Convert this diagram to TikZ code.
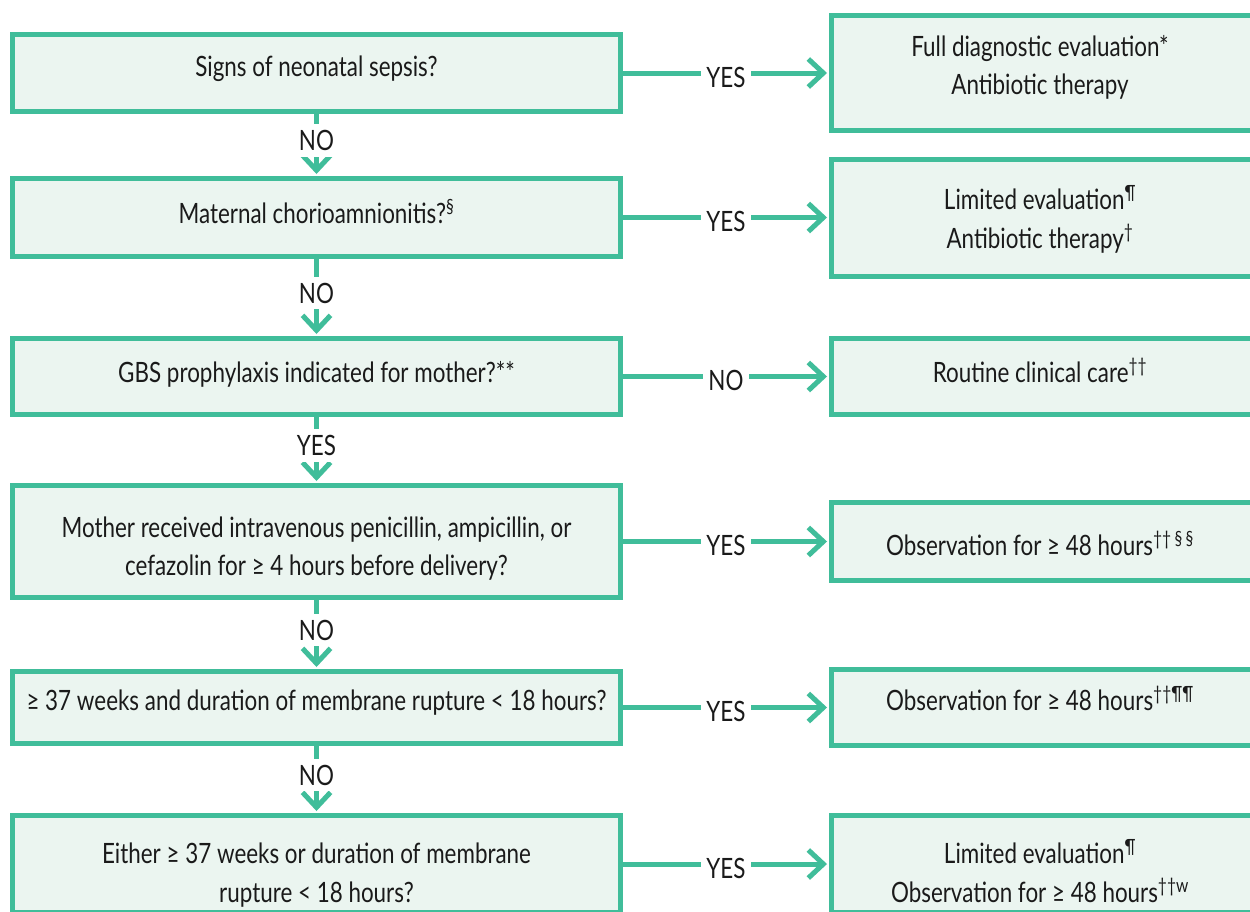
\documentclass[tikz,border=0pt]{standalone}
\usepackage{fontspec}
\setmainfont{Lato}[FakeStretch=0.8]
\usetikzlibrary{arrows.meta}
\definecolor{gr}{RGB}{64,189,154}
\definecolor{mint}{RGB}{235,245,240}
\definecolor{ink}{RGB}{26,26,26}
\begin{document}
\begin{tikzpicture}[x=1pt,y=-1pt,
  box/.style={draw=gr, line width=5pt, fill=mint, rectangle, inner sep=0pt},
  lbox/.style={box, minimum width=608pt},
  rbox/.style={box, minimum width=421pt},
  txt/.style={anchor=base, font=\fontsize{28}{38}\selectfont, text=ink, inner sep=0pt},
  lab/.style={font=\fontsize{28}{32}\selectfont, text=ink, fill=white, inner xsep=5pt, inner ysep=6pt},
  conn/.style={draw=gr, line width=5pt, shorten >=2pt, -{Straight Barb[length=15pt,width=28pt]}}
]
\useasboundingbox (0,0) rectangle (1250,911);
\clip (0,0) rectangle (1250,911);
\fill[white] (0,0) rectangle (1250,911);

% left column
\node[lbox, minimum height=77pt] (L1) at (316.5,73) {};
\node[lbox, minimum height=78pt] (L2) at (316.5,217.5) {};
\node[lbox, minimum height=76pt] (L3) at (316.5,376.5) {};
\node[lbox, minimum height=112pt] (L4) at (316.5,541.5) {};
\node[lbox, minimum height=72pt] (L5) at (316.5,707.5) {};
\node[lbox, minimum height=97pt] (L6) at (316.5,864) {};
% right column
\node[rbox, minimum height=115pt] (R1) at (1042,73) {};
\node[rbox, minimum height=117pt] (R2) at (1042,218) {};
\node[rbox, minimum height=76pt] (R3) at (1042,376.5) {};
\node[rbox, minimum height=78pt] (R4) at (1042,541.5) {};
\node[rbox, minimum height=76pt] (R5) at (1042,707.5) {};
\node[rbox, minimum height=97pt] (R6) at (1042,864) {};

% texts
\node[txt] (t1) at (316.5,76) {Signs of neonatal sepsis?};
\node[txt] (t2) at (316.5,223) {Maternal chorioamnionitis?\textsuperscript{§}};
\node[txt] (t3) at (316.5,382) {GBS prophylaxis indicated for mother?**};
\node[txt] (t4a) at (316.5,537) {Mother received intravenous penicillin, ampicillin, or};
\node[txt] (t4b) at (316.5,575) {cefazolin for ≥ 4 hours before delivery?};
\node[txt] (t5) at (316.5,710) {≥ 37 weeks and duration of membrane rupture < 18 hours?};
\node[txt] (t6a) at (316.5,863) {Either ≥ 37 weeks or duration of membrane};
\node[txt] (t6b) at (316.5,902) {rupture < 18 hours?};

\node[txt] (r1a) at (1040,56) {Full diagnostic evaluation*};
\node[txt] (r1b) at (1040,94) {Antibiotic therapy};
\node[txt] (r2a) at (1040,209) {Limited evaluation\textsuperscript{¶}};
\node[txt] (r2b) at (1040,248) {Antibiotic therapy\textsuperscript{†}};
\node[txt] (r3) at (1040,382) {Routine clinical care\textsuperscript{††}};
\node[txt] (r4) at (1040,555) {Observation for ≥ 48 hours\textsuperscript{††\,§\,§}};
\node[txt] (r5) at (1040,710) {Observation for ≥ 48 hours\textsuperscript{††¶¶}};
\node[txt] (r6a) at (1040,863) {Limited evaluation\textsuperscript{¶}};
\node[txt] (r6b) at (1040,902) {Observation for ≥ 48 hours\textsuperscript{††w}};

% vertical connectors
\draw[conn] (L1) -- node[lab, yshift=4.5pt] {NO} (L2);
\draw[conn] (L2) -- node[lab, yshift=4.5pt] {NO} (L3);
\draw[conn] (L3) -- node[lab, yshift=4.5pt] {YES} (L4);
\draw[conn] (L4) -- node[lab, yshift=4.5pt] {NO} (L5);
\draw[conn] (L5) -- node[lab, yshift=4.5pt] {NO} (L6);

% horizontal connectors
\draw[conn] (L1.east) -- node[lab, yshift=-4pt] {YES} (L1.east -| R1.west);
\draw[conn] (L2.east) -- node[lab, yshift=-4pt] {YES} (L2.east -| R2.west);
\draw[conn] (L3.east) -- node[lab, yshift=-4pt] {NO} (L3.east -| R3.west);
\draw[conn] (L4.east) -- node[lab, yshift=-4pt] {YES} (L4.east -| R4.west);
\draw[conn] (L5.east) -- node[lab, yshift=-4pt] {YES} (L5.east -| R5.west);
\draw[conn] (L6.east) -- node[lab, yshift=-4pt] {YES} (L6.east -| R6.west);
\end{tikzpicture}
\end{document}
